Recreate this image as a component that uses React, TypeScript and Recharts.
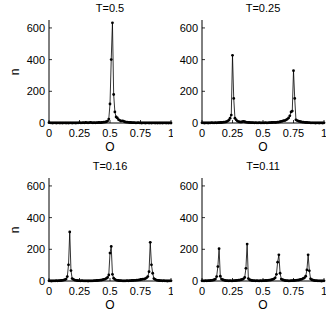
import React from 'react';
import { LineChart, Line, XAxis, YAxis } from 'recharts';

// histogram bin centres (O)
const binCenters = [
  0, 0.01, 0.02, 0.03, 0.04, 0.05, 0.06, 0.07, 0.08, 0.09,
  0.1, 0.11, 0.12, 0.13, 0.14, 0.15, 0.16, 0.17, 0.18, 0.19,
  0.2, 0.21, 0.22, 0.23, 0.24, 0.25, 0.26, 0.27, 0.28, 0.29,
  0.3, 0.31, 0.32, 0.33, 0.34, 0.35, 0.36, 0.37, 0.38, 0.39,
  0.4, 0.41, 0.42, 0.43, 0.44, 0.45, 0.46, 0.47, 0.48, 0.49,
  0.5, 0.51, 0.52, 0.53, 0.54, 0.55, 0.56, 0.57, 0.58, 0.59,
  0.6, 0.61, 0.62, 0.63, 0.64, 0.65, 0.66, 0.67, 0.68, 0.69,
  0.7, 0.71, 0.72, 0.73, 0.74, 0.75, 0.76, 0.77, 0.78, 0.79,
  0.8, 0.81, 0.82, 0.83, 0.84, 0.85, 0.86, 0.87, 0.88, 0.89,
  0.9, 0.91, 0.92, 0.93, 0.94, 0.95, 0.96, 0.97, 0.98, 0.99,
  1,
];

const countsT050 = [
  2, 1, 1, 0, 1, 1, 0, 1, 1, 0,
  1, 0, 1, 1, 0, 1, 0, 1, 1, 0,
  1, 1, 0, 1, 1, 2, 1, 1, 2, 1,
  3, 2, 1, 2, 4, 2, 1, 2, 1, 2,
  2, 3, 2, 3, 4, 5, 6, 8, 12, 25,
  120, 400, 632, 180, 70, 38, 32, 21, 17, 12,
  14, 12, 8, 6, 5, 4, 3, 3, 2, 2,
  2, 1, 1, 2, 1, 1, 0, 1, 1, 0,
  1, 1, 0, 1, 0, 1, 1, 0, 1, 0,
  1, 0, 1, 0, 1, 1, 0, 1, 0, 1,
  0,
];

const countsT025 = [
  1, 1, 0, 1, 1, 0, 1, 1, 2, 1,
  1, 2, 1, 2, 2, 3, 3, 4, 5, 6,
  8, 12, 18, 30, 50, 427, 155, 30, 20, 12,
  9, 7, 6, 8, 10, 8, 5, 4, 3, 3,
  2, 2, 2, 1, 2, 1, 1, 2, 1, 1,
  1, 1, 2, 1, 1, 2, 2, 3, 3, 4,
  3, 4, 5, 6, 8, 10, 12, 15, 15, 20,
  25, 32, 45, 70, 75, 330, 155, 20, 15, 12,
  10, 8, 6, 5, 4, 3, 3, 2, 2, 1,
  1, 1, 1, 0, 1, 1, 0, 1, 1, 0,
  1,
];

const countsT016 = [
  1, 1, 0, 1, 1, 1, 2, 1, 2, 2,
  3, 4, 6, 8, 12, 28, 102, 310, 66, 15,
  10, 6, 4, 3, 2, 2, 1, 2, 1, 1,
  1, 1, 0, 1, 1, 1, 1, 2, 2, 3,
  3, 4, 5, 6, 8, 10, 12, 16, 22, 38,
  176, 218, 42, 18, 10, 6, 4, 3, 2, 2,
  1, 1, 1, 1, 2, 1, 2, 2, 3, 3,
  4, 4, 5, 6, 7, 8, 10, 12, 12, 15,
  20, 28, 59, 244, 102, 49, 15, 10, 6, 4,
  3, 2, 2, 1, 2, 1, 1, 0, 1, 1,
  1,
];

const countsT011 = [
  1, 1, 1, 2, 1, 2, 2, 3, 4, 5,
  8, 12, 28, 91, 204, 30, 12, 8, 5, 3,
  2, 2, 1, 2, 1, 1, 2, 2, 3, 4,
  5, 6, 8, 10, 14, 22, 80, 233, 15, 8,
  5, 3, 2, 2, 1, 2, 1, 1, 2, 1,
  2, 2, 3, 3, 4, 5, 6, 8, 10, 14,
  20, 42, 119, 165, 49, 12, 8, 5, 3, 2,
  2, 1, 1, 2, 2, 3, 3, 4, 5, 6,
  8, 10, 12, 16, 20, 30, 70, 165, 64, 14,
  8, 5, 3, 2, 2, 1, 1, 1, 0, 1,
  1,
];

const panelTitles = ['T=0.5', 'T=0.25', 'T=0.16', 'T=0.11'];
const xTicks = [0, 0.25, 0.5, 0.75, 1];
const xTickLabels = ['0', '0.25', '0.5', '0.75', '1'];
const yTicks = [0, 200, 400, 600];
const xLabel = 'O';
const yLabel = 'n';

const FONT = '"Liberation Sans", Arial, Helvetica, sans-serif';
const TICK_LEN = 3;

const BottomTick = (props: any) => {
  const { x, y, payload } = props;
  const i = xTicks.indexOf(payload.value);
  return (
    <g>
      <line x1={x} y1={y} x2={x} y2={y - TICK_LEN} stroke="#000" strokeWidth={0.8} />
      <text x={x} y={y + 13.5} textAnchor="middle" fontSize={11} fontFamily={FONT} fill="#000">
        {i >= 0 ? xTickLabels[i] : payload.value}
      </text>
    </g>
  );
};

const TopTick = (props: any) => {
  const { x, y } = props;
  return <line x1={x} y1={y} x2={x} y2={y + TICK_LEN} stroke="#000" strokeWidth={0.8} />;
};

const LeftTick = (props: any) => {
  const { x, y, payload } = props;
  return (
    <g>
      <line x1={x} y1={y} x2={x + TICK_LEN} y2={y} stroke="#000" strokeWidth={0.8} />
      <text x={x - 4} y={y + 4} textAnchor="end" fontSize={11} fontFamily={FONT} fill="#000">
        {payload.value}
      </text>
    </g>
  );
};

const RightTick = (props: any) => {
  const { x, y } = props;
  return <line x1={x} y1={y} x2={x - TICK_LEN} y2={y} stroke="#000" strokeWidth={0.8} />;
};

const W = 173;
const H = 158;
const AXIS_W = 49;
const PLOT_W = 122;
const PLOT_TOP = 20;
const PLOT_H = 103;

interface PanelProps {
  left: number;
  top: number;
  title: string;
  counts: number[];
  showYLabel: boolean;
}

const Panel: React.FC<PanelProps> = ({ left, top, title, counts, showYLabel }) => {
  const data = binCenters.map((x, i) => ({ x, n: counts[i] }));
  const axisStroke = { stroke: '#000', strokeWidth: 1 };
  return (
    <div style={{ position: 'absolute', left, top, width: W, height: H }}>
      <LineChart
        width={W}
        height={H}
        data={data}
        margin={{ top: PLOT_TOP, right: W - AXIS_W - PLOT_W, bottom: 0, left: 0 }}
      >
        <XAxis
          xAxisId="b"
          dataKey="x"
          type="number"
          domain={[0, 1]}
          ticks={xTicks}
          interval={0}
          height={H - PLOT_TOP - PLOT_H}
          tickSize={0}
          tickMargin={0}
          tickLine={false}
          axisLine={axisStroke}
          tick={<BottomTick />}
        />
        <XAxis
          xAxisId="t"
          orientation="top"
          dataKey="x"
          type="number"
          domain={[0, 1]}
          ticks={xTicks}
          interval={0}
          height={0}
          tickSize={0}
          tickMargin={0}
          tickLine={false}
          axisLine={axisStroke}
          tick={<TopTick />}
        />
        <YAxis
          yAxisId="l"
          type="number"
          domain={[0, 650]}
          ticks={yTicks}
          interval={0}
          width={AXIS_W}
          tickSize={0}
          tickMargin={0}
          tickLine={false}
          axisLine={axisStroke}
          tick={<LeftTick />}
        />
        <YAxis
          yAxisId="r"
          orientation="right"
          type="number"
          domain={[0, 650]}
          ticks={yTicks}
          interval={0}
          width={0}
          tickSize={0}
          tickMargin={0}
          tickLine={false}
          axisLine={axisStroke}
          tick={<RightTick />}
        />
        <Line
          xAxisId="b"
          yAxisId="l"
          type="linear"
          dataKey="n"
          stroke="#000"
          strokeWidth={0.8}
          dot={{ r: 1.4, fill: '#000', stroke: '#000', strokeWidth: 0 }}
          isAnimationActive={false}
        />
      </LineChart>
      <div
        style={{
          position: 'absolute', left: AXIS_W, top: 1, width: PLOT_W, textAlign: 'center',
          fontFamily: FONT, fontSize: 11, lineHeight: '14px', color: '#000',
        }}
      >
        {title}
      </div>
      <div
        style={{
          position: 'absolute', left: AXIS_W, top: 140, width: PLOT_W, textAlign: 'center',
          fontFamily: FONT, fontSize: 12, lineHeight: '15px', color: '#000',
        }}
      >
        {xLabel}
      </div>
      {showYLabel && (
        <div
          style={{
            position: 'absolute', left: 15, top: PLOT_TOP + PLOT_H / 2, width: 0, height: 0,
          }}
        >
          <div
            style={{
              position: 'absolute', left: -10, top: -8, width: 20, height: 16, textAlign: 'center',
              fontFamily: FONT, fontSize: 12, lineHeight: '16px', color: '#000',
              transform: 'rotate(-90deg)',
            }}
          >
            {yLabel}
          </div>
        </div>
      )}
    </div>
  );
};

export default function App() {
  return (
    <div style={{ position: 'absolute', left: 0, top: 0, width: 327, height: 317, background: '#fff' }}>
      <Panel left={0} top={0} title={panelTitles[0]} counts={countsT050} showYLabel />
      <Panel left={153} top={0} title={panelTitles[1]} counts={countsT025} showYLabel={false} />
      <Panel left={0} top={158} title={panelTitles[2]} counts={countsT016} showYLabel />
      <Panel left={153} top={158} title={panelTitles[3]} counts={countsT011} showYLabel={false} />
    </div>
  );
}
